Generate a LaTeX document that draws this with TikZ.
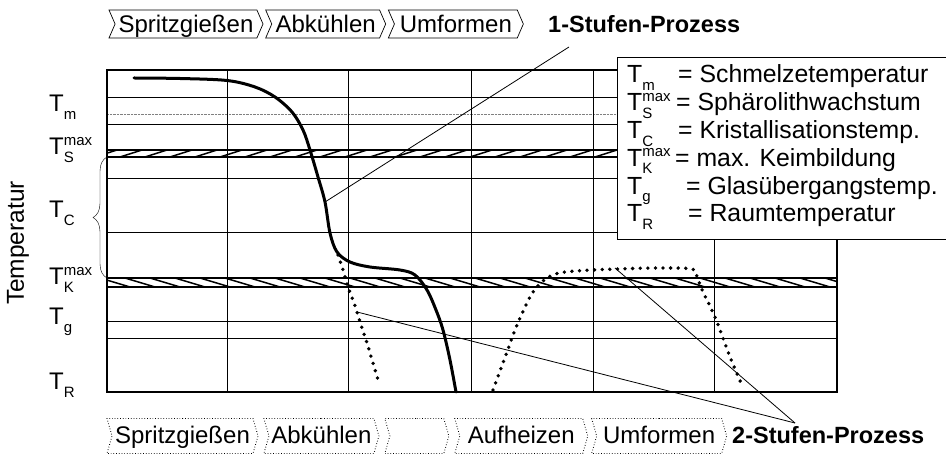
\documentclass[tikz,border=0pt]{standalone}
\usepackage{fontspec}
\setmainfont{Liberation Sans}
\usetikzlibrary{positioning,shapes.symbols,decorations.pathreplacing}

\newcommand{\idx}[1]{{\fontsize{15}{15}\selectfont #1}}
\newcommand{\tsub}[1]{T\smash{\raisebox{-0.3em}{\idx{#1}}}}
\newcommand{\tmax}[1]{T\rlap{\smash{\raisebox{-0.3em}{\idx{#1}}}}\smash{\raisebox{0.38em}{\idx{max}}}}

\begin{document}
\begin{tikzpicture}[x=1pt, y=-1pt,
	every node/.style={font=\fontsize{24}{28}\selectfont, inner sep=0pt},
	legend/.style={font=\fontsize{24.8}{28}\selectfont, anchor=base west},
	phase/.style={signal, signal from=west, signal to=east, draw, line width=0.7pt, minimum height=28pt,
		signal pointer angle=133, text height=23pt, text depth=5pt},
	phasetwo/.style={phase, dotted, line width=0.9pt, minimum height=35pt, signal pointer angle=148,
		text height=24.5pt, text depth=10.5pt},
	proc/.style={font=\fontsize{23.5}{28}\selectfont\bfseries, anchor=west},
	gridline/.style={line width=0.8pt},
	frame/.style={line width=1.8pt},
	band/.style={line width=1.5pt},
	melt/.style={line width=3pt, line cap=round},
	dots/.style={line width=3.8pt, line cap=round, dash pattern=on 0pt off 7.6pt},
	lead/.style={line width=0.8pt}]
	\useasboundingbox (0,0) rectangle (946,454);

	% grid of the diagram
	\foreach \y in {97,124,178,232,321,338}
		\draw[gridline] (107,\y) -- (837,\y);
	\draw[gray, densely dotted] (107,114) -- (837,114);
	\foreach \x in {227,348,471,593,714}
		\draw[gridline] (\x,70) -- (\x,392);

	% hatched bands
	\begin{scope}
		\clip (107,150) rectangle (837,157);
		\foreach \x in {95,120,...,840}
			\draw[line width=1.5pt] (\x,157) -- (\x+22,150);
	\end{scope}
	\begin{scope}
		\clip (107,278) rectangle (837,287);
		\foreach \x in {75,100,...,840}
			\draw[line width=1.5pt] (\x,278) -- (\x+30,287);
	\end{scope}
	\foreach \y in {150,157,278,287}
		\draw[band] (107,\y) -- (837,\y);
	\draw[frame] (107,70) rectangle (837,392);

	% legend
	\draw[line width=1pt, fill=white] (617,58) rectangle (960,240);
	\node[legend] (lgm) at (627,83) {\tsub{m}};
	\node[legend] (lgS) at (627,110.8) {\tmax{S}};
	\node[legend] (lgC) at (627,138.6) {\tsub{C}};
	\node[legend] (lgK) at (627,166.4) {\tmax{K}};
	\node[legend] (lgg) at (627,194.2) {\tsub{g}};
	\node[legend] (lgR) at (627,222) {\tsub{R}};
	\node[legend] (txm) at (678,83) {= Schmelzetemperatur};
	\node[legend] (txS) at (676,110.8) {= Sphärolithwachstum};
	\node[legend] (txC) at (678,138.6) {= Kristallisationstemp.};
	\node[legend] (txK) at (675,166.4) {= max. Keimbildung};
	\node[legend] (txg) at (686,194.2) {= Glasübergangstemp.};
	\node[legend] (txR) at (688,222) {= Raumtemperatur};

	% axis labels
	\node[rotate=90, font=\fontsize{24.5}{28}\selectfont] (ylab) at (18,243) {Temperatur};
	\node[anchor=base west] (Tm) at (49,112) {\tsub{m}};
	\node[anchor=base west] (TS) at (49,155) {\tmax{S}};
	\node[anchor=base west] (TC) at (49,218) {\tsub{C}};
	\node[anchor=base west] (TK) at (49,285) {\tmax{K}};
	\node[anchor=base west] (Tg) at (49,325) {\tsub{g}};
	\node[anchor=base west] (TR) at (49,390) {\tsub{R}};
	\draw[thin, decorate, decoration={brace, amplitude=14pt}] (107,278) -- (107,157);

	% process steps
	\node[phase, minimum width=154pt] (s1) at (186,24) {Spritzgießen};
	\node[phase, minimum width=120pt, right=8pt of s1] (s2) {Abkühlen};
	\node[phase, minimum width=135pt, right=8pt of s2] (s3) {Umformen};
	\node[proc] (p1) at (548,24) {1-Stufen-Prozess};

	\node[phasetwo, minimum width=151pt] (b1) at (182.5,436) {Spritzgießen};
	\node[phasetwo, minimum width=115pt, right=10pt of b1] (b2) {Abkühlen};
	\node[phasetwo, minimum width=64pt, right=10pt of b2] (b3) {};
	\node[phasetwo, minimum width=133pt, right=10pt of b3] (b4) {Aufheizen};
	\node[phasetwo, minimum width=135pt, right=8pt of b4] (b5) {Umformen};
	\node[proc] (p2) at (732,435) {2-Stufen-Prozess};

	% temperature curves
	\draw[melt] plot[smooth, tension=0.55] coordinates {(134,78) (180,78.5) (227,80.5) (255,87) (275,97)
		(292,112) (303,130) (310,150) (318,177) (325,202) (330,233) (337,252) (350,262) (370,267)
		(400,270) (415,275) (427,290) (436,310) (443,330) (450,360) (456,392)};
	\draw[dots] plot[smooth] coordinates {(338,255) (343,270) (348,287) (353,300) (357,312)
		(362,328) (367,343) (373,363) (379,383)};
	\draw[dots] plot[smooth] coordinates {(493,390) (507,352) (515,330) (525,307) (533,292)
		(543,281) (555,274) (575,271) (617,269) (657,268) (692,269) (697,277) (703,292)
		(710,306) (717,322) (723,338) (730,357) (741,383)};

	% leader lines
	\coordinate (a1) at (569,47);
	\coordinate (a2) at (795,423);
	\coordinate (k1) at (325,202);
	\coordinate (k2) at (357,312);
	\coordinate (k3) at (615,268);
	\draw[lead] (a1) -- (k1);
	\draw[lead] (a2) -- (k2);
	\draw[lead] (a2) -- (k3);
\end{tikzpicture}
\end{document}
